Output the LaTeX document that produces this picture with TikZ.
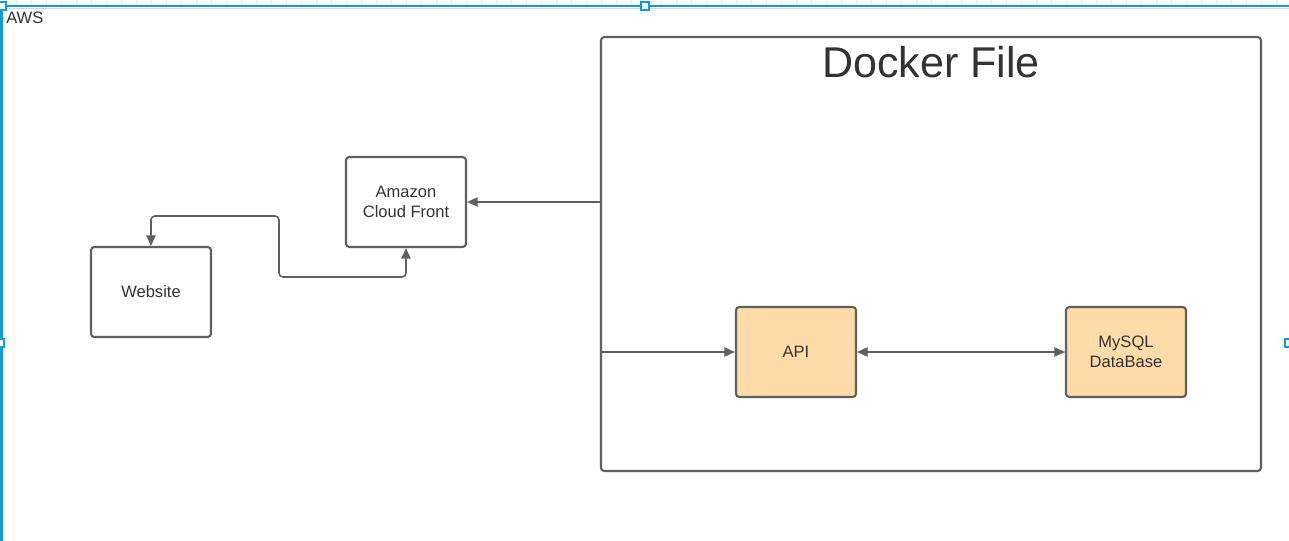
\documentclass[tikz,border=0pt]{standalone}
\usepackage{fontspec}
\setmainfont{Liberation Sans}
\usetikzlibrary{arrows.meta}
\definecolor{lineg}{HTML}{5F5F5F}
\definecolor{textg}{HTML}{333333}
\definecolor{apifill}{HTML}{FFDBA9}
\definecolor{selblue}{HTML}{0F9BD7}
\tikzset{
  box/.style={draw=lineg,line width=1.6pt,rounded corners=2.5pt,minimum width=90pt,minimum height=67.5pt,
    align=center,text=textg,font=\fontsize{12.4}{15}\selectfont,inner sep=0pt},
  appbox/.style={box,fill=apifill},
  link/.style={draw=lineg,line width=1.2pt,rounded corners=3pt,-{Triangle[length=8pt,width=7pt]}},
  both/.style={link,{Triangle[length=8pt,width=7pt]}-{Triangle[length=8pt,width=7pt]}},
  handle/.style={draw=selblue,fill=white,line width=0.8pt,minimum size=6pt,inner sep=0pt}
}
\begin{document}
\begin{tikzpicture}[x=0.75pt,y=-0.75pt]
\useasboundingbox (0,0) rectangle (1289,541);
\fill[white] (0,0) rectangle (1289,541);
% ruler and frame
\foreach \t in {16,31,...,1289}
  \draw[black!7,line width=0.5pt] (\t,0) -- (\t,6);
\draw[black!15,line width=0.8pt] (1,8.5) -- (1289,8.5);
\draw[selblue,line width=1.5pt] (1.5,541) -- (1.5,6.5) -- (1289,6.5);
\node[handle] (h1) at (2,6) {};
\node[handle] (h2) at (645,6) {};
\node[handle] (h3) at (1289,343) {};
\node[handle] (h4) at (0,343) {};
\node[anchor=north west,inner sep=0pt,text=textg,font=\fontsize{12.4}{14}\selectfont] (aws) at (6,12) {AWS};
% Docker container
\node[draw=lineg,line width=1.6pt,rounded corners=2.5pt,minimum width=495pt,minimum height=325.5pt,inner sep=0pt] (docker) at (931,254) {};
\node[text=textg,font=\fontsize{32.3}{36}\selectfont,inner sep=0pt] (title) at (931,62) {Docker File};
% Vertices
\node[box] (web) at (151,292) {Website};
\node[box] (cf) at (406,202) {Amazon\\Cloud Front};
\node[appbox] (api) at (796,352) {API};
\node[appbox] (db) at (1126,352) {MySQL\\DataBase};
% Connections
\draw[both] (cf.south) -- (406,277) -- (279,277) -- (279,216) -- (151,216) -- (web.north);
\draw[link] (docker.west |- cf) -- (cf.east);
\draw[link] (docker.west |- api) -- (api.west);
\draw[both] (api.east) -- (db.west);
\end{tikzpicture}
\end{document}
